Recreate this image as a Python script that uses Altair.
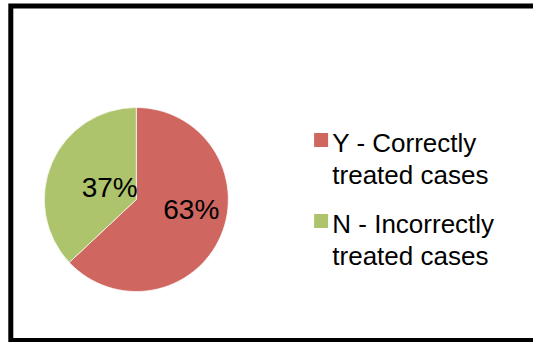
import altair as alt
import pandas as pd

# Survey answers and their shares (percent)
answers = ["Y", "N"]
shares = [63, 37]
legend_labels = ["Y - Correctly\ntreated cases", "N - Incorrectly\ntreated cases"]
colors = ["#CF6660", "#ADC46D"]

FONT = "Liberation Sans"

df = pd.DataFrame({"answer": answers, "share": shares, "legend": legend_labels})
df["pct"] = df["share"].astype(str) + "%"

color = alt.Color("answer:N", scale=alt.Scale(domain=answers, range=colors), legend=None)

# Cumulative angles (radians) for the slices, Y first, clockwise from 12 o'clock
base = (
    alt.Chart(df)
    .transform_joinaggregate(total="sum(share)")
    .transform_stack(
        stack="share",
        groupby=[],
        as_=["start", "end"],
        sort=[alt.SortField("answer", order="descending")],
    )
    .transform_calculate(
        a0="2 * PI * datum.start / datum.total",
        a1="2 * PI * datum.end / datum.total",
        amid="PI * (datum.start + datum.end) / datum.total",
    )
)

cx, cy = 125.5, 193.5  # pie centre inside the framed view

pie = base.mark_arc(radius=92, stroke="white", strokeWidth=0.7).encode(
    theta=alt.Theta("a0:Q", scale=None, stack=None),
    theta2="a1:Q",
    color=color,
    x=alt.value(cx),
    y=alt.value(cy),
)


def slice_label(key, r, dx, dy):
    return base.transform_filter(alt.datum.answer == key).mark_text(
        radius=r, dx=dx, dy=dy, font=FONT, fontSize=28, color="black"
    ).encode(
        theta=alt.Theta("amid:Q", scale=None, stack=None),
        text="pct:N",
        x=alt.value(cx),
        y=alt.value(cy),
    )


label_y = slice_label("Y", 54, 5.4, -10.4)
label_n = slice_label("N", 29, 0, 1.5)

# Legend: swatches and two-line labels
leg_y = alt.Y(
    "answer:N",
    sort=answers,
    scale=alt.Scale(type="point", range=[134, 215], padding=0),
    axis=None,
)
swatch = alt.Chart(df).mark_square(size=196, opacity=1).encode(
    x=alt.value(310.3), y=leg_y, color=color
)
legend_text = alt.Chart(df).mark_text(
    align="left",
    baseline="alphabetic",
    lineBreak="\n",
    lineHeight=32,
    dy=11.5,
    fontSize=26,
    font=FONT,
    color="black",
).encode(x=alt.value(321.5), y=leg_y, text="legend:N")

chart = (
    alt.layer(pie, label_y, label_n, swatch, legend_text)
    .properties(
        width=530,
        height=334.5,
        autosize=alt.AutoSizeParams(type="none"),
        padding={"left": 10.8, "top": 6, "right": -7.8, "bottom": 1.5},
        background="white",
    )
    .configure_view(stroke="black", strokeWidth=5)
)

chart.save("out.html", embed_options={"renderer": "svg", "actions": False})
